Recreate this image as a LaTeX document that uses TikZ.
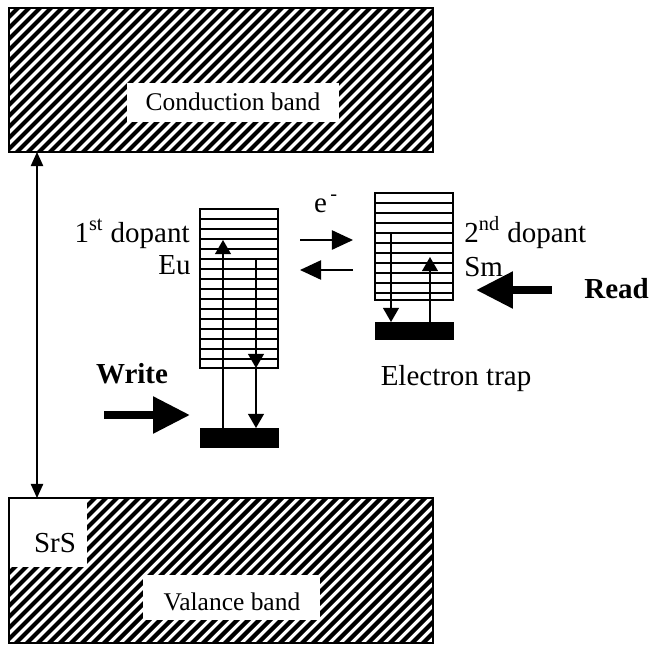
\documentclass[tikz,border=0pt]{standalone}
\usepackage{fontspec}
\setmainfont{Liberation Serif}
\usetikzlibrary{arrows.meta}

\tikzset{
  hatch/.style={line width=2.4pt},
  level/.style={line width=1.1pt},
  trapbar/.style={fill=black},
  thin arrow/.style={line width=0.8pt,-{Triangle[length=8pt,width=9pt]}},
  e arrow/.style={line width=0.8pt,-{Triangle[length=12pt,width=11pt]}},
  big arrow/.style={line width=4.5pt,-{Triangle[length=21pt,width=20pt]}},
  lbl/.style={inner sep=0pt,anchor=base},
  big lbl/.style={lbl,font=\fontsize{16.5pt}{19pt}\selectfont},
  bold lbl/.style={lbl,font=\fontsize{16.5pt}{19pt}\selectfont\bfseries},
}

\begin{document}
\begin{tikzpicture}[x=0.02cm,y=-0.02cm,font=\fontsize{14.5pt}{17pt}\selectfont]
\useasboundingbox (0,0) rectangle (651,646);

% ===== Bandes hachurees =====
\begin{scope}
  \clip (9,8) rectangle (433,152);
  \foreach \k in {-200,-189,...,460}
    \draw[hatch] (\k,160) -- ++(170,-170);
\end{scope}
\begin{scope}
  \clip (9,498) rectangle (433,643);
  \foreach \k in {-200,-189,...,460}
    \draw[hatch] (\k,650) -- ++(170,-170);
\end{scope}

% zones blanches des textes
\fill[white] (127,83) rectangle (339,122);
\fill[white] (9,498) rectangle (87,567);
\fill[white] (143,575) rectangle (320,620);

\draw[line width=1.2pt] (9,8) rectangle (433,152);
\draw[line width=1.2pt] (9,498) rectangle (433,643);

\node[lbl] (cb) at (233,110) {Conduction band};
\node[lbl] (vb) at (232,610) {Valance band};
\node[big lbl] (srs) at (55,552) {SrS};

% ===== Gap =====
\coordinate (gtop) at (37,152);
\coordinate (gbot) at (37,498);
\draw[line width=0.8pt,{Triangle[length=8pt,width=7pt]}-{Triangle[length=8pt,width=7pt]}] (gtop) -- (gbot);

% ===== 1er dopant (Eu) =====
\draw[line width=1.2pt] (200,209) rectangle (278,368);
\foreach \y in {219,229,...,359}
  \draw[level] (200,\y) -- (278,\y);
\draw[trapbar] (200,428) rectangle (278,447);

\coordinate (eubot) at (223,428);
\coordinate (eutop) at (223,240);
\coordinate (eua) at (256,259);
\coordinate (eub) at (256,368);
\coordinate (euc) at (256,428);
\draw[thin arrow] (eubot) -- (eutop);
\draw[thin arrow] (eua) -- (eub);
\draw[thin arrow] (eub) -- (euc);

\node[big lbl,anchor=base east] (dop1) at (190,242) {1\textsuperscript{st} dopant};
\node[big lbl,anchor=base east] (eu) at (191,274) {Eu};

% ===== 2e dopant (Sm) =====
\draw[line width=1.2pt] (375,193) rectangle (453,300);
\foreach \y in {203,213,...,293}
  \draw[level] (375,\y) -- (453,\y);
\draw[trapbar] (375,322) rectangle (453,339);

\coordinate (sma) at (391,232);
\coordinate (smb) at (391,322);
\coordinate (smc) at (430,322);
\coordinate (smd) at (430,257);
\draw[thin arrow] (sma) -- (smb);
\draw[thin arrow] (smc) -- (smd);

\node[big lbl,anchor=base west] (dop2) at (464,242) {2\textsuperscript{nd} dopant};
\node[big lbl,anchor=base west] (sm) at (464,276) {Sm};
\node[big lbl] (trap) at (456,385) {Electron trap};

% ===== Transfert d'electrons =====
\node[big lbl] (el) at (326,212) {e\textsuperscript{\,-}};
\coordinate (ea) at (300,240);
\coordinate (eb) at (353,240);
\coordinate (ec) at (353,270);
\coordinate (ed) at (300,270);
\draw[e arrow] (ea) -- (eb);
\draw[e arrow] (ec) -- (ed);

% ===== Ecriture / lecture =====
\node[bold lbl] (write) at (132,383) {Write};
\coordinate (wa) at (104,415);
\coordinate (wb) at (190,415);
\draw[big arrow] (wa) -- (wb);

\node[bold lbl,anchor=base west] (read) at (584,298) {Read};
\coordinate (ra) at (552,290);
\coordinate (rb) at (476,290);
\draw[big arrow] (ra) -- (rb);

\end{tikzpicture}
\end{document}
